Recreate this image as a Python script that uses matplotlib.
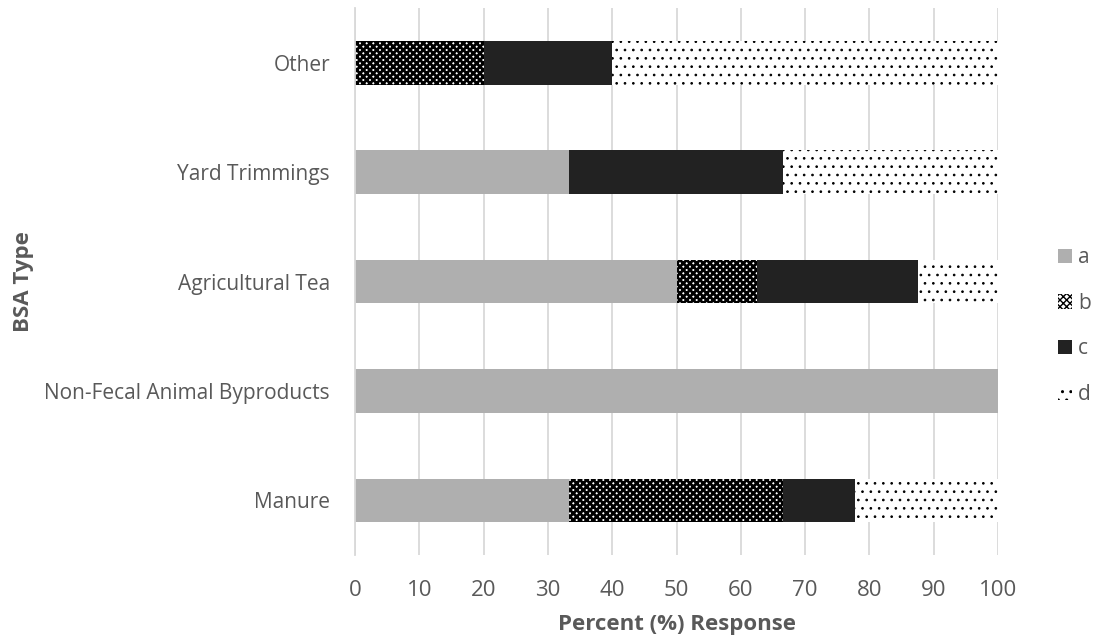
import numpy as np
import matplotlib
matplotlib.use('Agg')
import matplotlib.pyplot as plt

plt.rcParams['font.family'] = ['Open Sans', 'DejaVu Sans']

categories = ['Manure', 'Non-Fecal Animal Byproducts', 'Agricultural Tea',
              'Yard Trimmings', 'Other']
series_names = ['a', 'b', 'c', 'd']
a_vals = [33.3, 100, 50, 33.3, 0]
b_vals = [33.3, 0, 12.5, 0, 20]
c_vals = [11.1, 0, 25, 33.3, 20]
d_vals = [22.3, 0, 12.5, 33.4, 60]

txt = '#595959'
fig, ax = plt.subplots(figsize=(10.94, 6.44), dpi=100)
fig.subplots_adjust(left=0.3245, right=0.9123, bottom=0.138, top=0.9876)

y = np.arange(len(categories))
h = 0.4
left = np.zeros(len(categories))
styles = [
    (dict(color='#afafaf'), 1.0),
    (dict(facecolor='white', edgecolor='black', hatch='xxxxx'), 2.0),
    (dict(color='#222222'), 1.0),
    (dict(facecolor='white', edgecolor='black', hatch='..'), 0.7),
]
for name, vals, (st, hlw) in zip(series_names, [a_vals, b_vals, c_vals, d_vals], styles):
    vals = np.array(vals)
    with plt.rc_context({'hatch.linewidth': hlw}):
        bars = ax.barh(y, vals, height=h, left=left, label=name, linewidth=0, **st)
        for p in bars:
            if hasattr(p, 'set_hatch_linewidth'):
                p.set_hatch_linewidth(hlw)
    left += vals

ax.set_xlim(0, 100)
ax.set_ylim(-0.5, len(categories) - 0.5)
ax.set_xticks(np.arange(0, 101, 10))
ax.set_yticks(y)
ax.set_yticklabels(categories)
ax.tick_params(axis='y', length=0, labelsize=15, colors=txt, pad=18)
ax.tick_params(axis='x', length=0, labelsize=16, colors=txt, pad=18)
ax.xaxis.grid(True, color='#d9d9d9', linewidth=1.3)
ax.set_axisbelow(True)
for s in ['top', 'right', 'bottom']:
    ax.spines[s].set_visible(False)
ax.spines['left'].set_color('#d9d9d9')
ax.spines['left'].set_linewidth(1.3)

ax.set_xlabel('Percent (%) Response', fontsize=16, fontweight='bold', color=txt, labelpad=9)
ax.set_ylabel('BSA Type', fontsize=16, fontweight='bold', color=txt)
ax.yaxis.set_label_coords(-0.499, 0.5)

ax.legend(loc='center left', bbox_to_anchor=(1.093, 0.4187), frameon=False,
          fontsize=15, labelcolor=txt, handlelength=0.67, handleheight=0.67,
          handletextpad=0.3, labelspacing=1.18, borderaxespad=0, borderpad=0)

plt.savefig('out.png', dpi=100)
